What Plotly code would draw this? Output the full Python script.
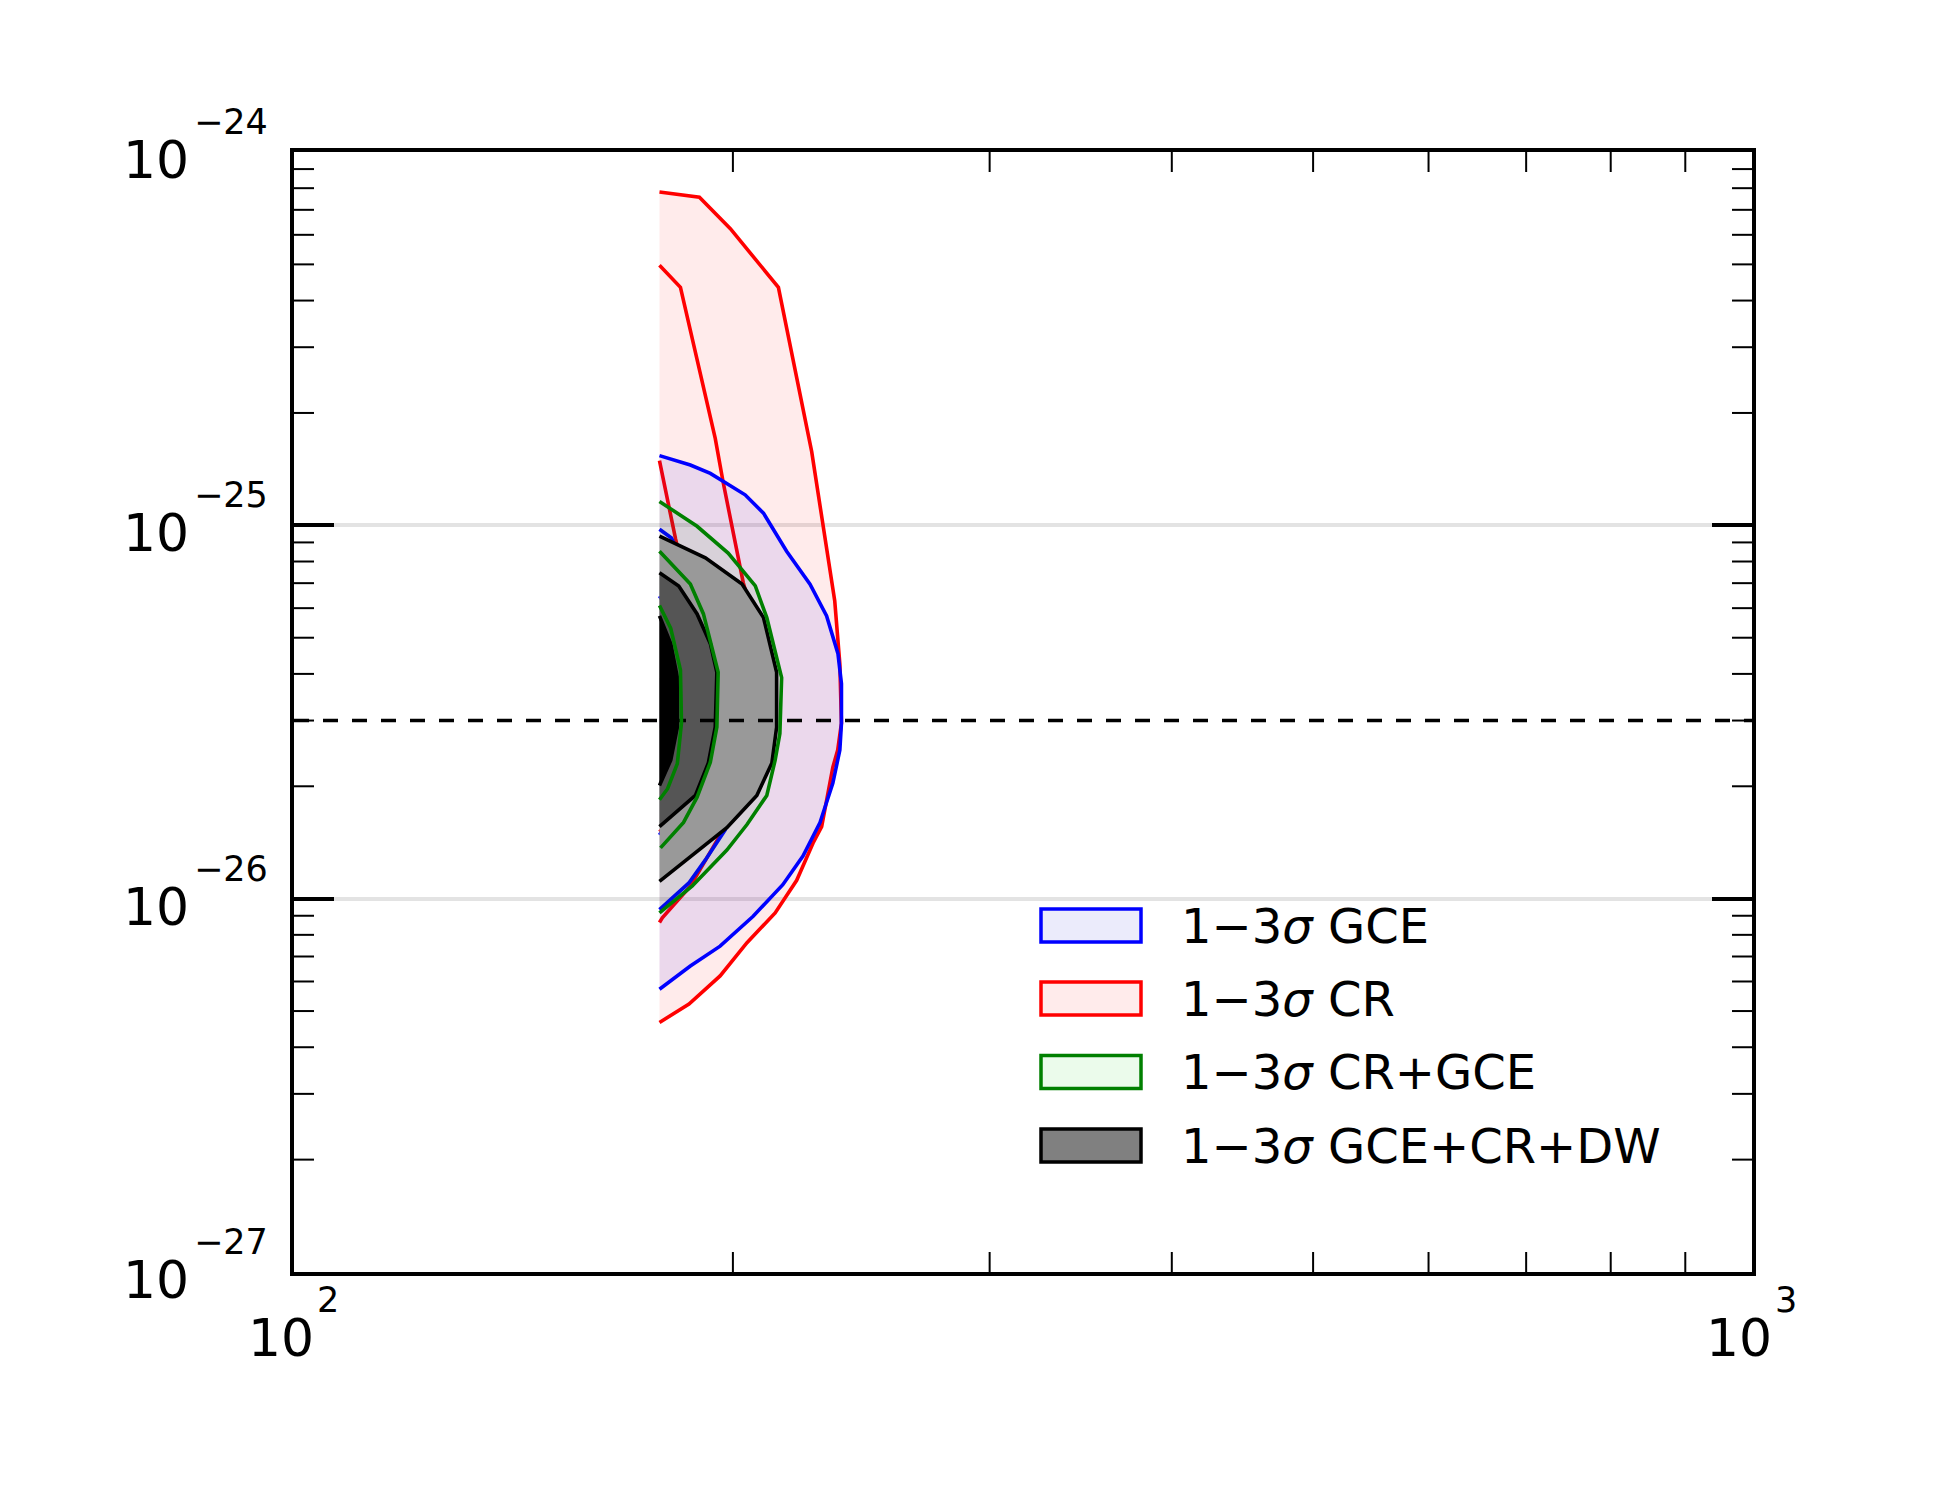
import plotly.graph_objects as go

# ---------------- data: dark-matter mass [GeV] and <sigma v> [cm^3/s] ----------------
# CR (red) contours
cr3_m = [178.1, 189.7, 199.2, 214.9, 225.3, 226.5, 234.9, 236.8, 237.4, 236.0, 234.2,
         230.1, 227.0, 221.2, 213.8, 204.5, 196.0, 186.6, 178.1]
cr3_sv = [7.81e-25, 7.57e-25, 6.23e-25, 4.34e-25, 1.745e-25, 1.575e-25, 6.27e-26, 4.25e-26,
          2.95e-26, 2.50e-26, 2.25e-26, 1.56e-26, 1.41e-26, 1.12e-26, 9.16e-27, 7.62e-27,
          6.21e-27, 5.22e-27, 4.66e-27]
cr2_m = [178.1, 184.1, 194.5, 196.9, 203.3, 208.8, 211.4, 206.2, 196.4, 187.0, 178.9, 178.1]
cr2_sv = [4.97e-25, 4.34e-25, 1.709e-25, 1.31e-25, 7.02e-26, 4.91e-26, 2.95e-26, 1.95e-26,
          1.50e-26, 1.08e-26, 8.88e-27, 8.63e-27]
cr1_m = [178.1, 182.7, 188.5, 191.5, 188.5, 178.1]
cr1_sv = [1.491e-25, 9.18e-26, 5.55e-26, 3.0e-26, 1.84e-26, 1.51e-26]

# GCE (blue) contours
gce3_m = [178.1, 187.0, 193.0, 203.9, 209.9, 217.7, 225.9, 231.9, 236.1, 237.4, 237.4, 236.8,
          234.2, 229.5, 223.4, 216.4, 206.5, 196.0, 187.0, 178.1]
gce3_sv = [1.537e-25, 1.451e-25, 1.378e-25, 1.207e-25, 1.078e-25, 8.52e-26, 6.96e-26, 5.72e-26,
           4.53e-26, 3.77e-26, 2.95e-26, 2.50e-26, 2.04e-26, 1.60e-26, 1.30e-26, 1.09e-26,
           8.97e-27, 7.46e-27, 6.60e-27, 5.72e-27]
gce2_m = [178.1, 181.5, 190.0, 196.4, 200.7, 197.6, 191.5, 186.5, 178.1]
gce2_sv = [9.76e-26, 9.25e-26, 6.27e-26, 3.39e-26, 1.95e-26, 1.53e-26, 1.27e-26, 1.10e-26, 9.35e-27]
gce1_m = [178.1, 186.0, 189.0, 186.0, 178.1]
gce1_sv = [6.47e-26, 5.0e-26, 3.0e-26, 1.9e-26, 1.48e-26]

# CR+GCE (green) contours
cg3_m = [178.1, 189.0, 198.5, 207.2, 211.0, 216.0, 215.4, 213.8, 211.0, 204.5, 198.1, 187.5, 178.1]
cg3_sv = [1.159e-25, 9.94e-26, 8.43e-26, 6.88e-26, 5.66e-26, 3.91e-26, 2.77e-26, 2.35e-26,
          1.89e-26, 1.58e-26, 1.35e-26, 1.08e-26, 9.16e-27]
cg2_m = [178.1, 187.0, 190.9, 195.4, 195.0, 193.0, 189.0, 185.0, 178.4]
cg2_sv = [8.52e-26, 6.96e-26, 5.79e-26, 4.04e-26, 2.88e-26, 2.32e-26, 1.87e-26, 1.60e-26, 1.368e-26]
cg1_m = [178.1, 181.3, 184.1, 184.4, 183.2, 180.4, 178.1]
cg1_sv = [6.1e-26, 5.3e-26, 4.1e-26, 2.96e-26, 2.3e-26, 1.97e-26, 1.84e-26]

# GCE+CR+DW (grey) contours
dw3_m = [178.1, 191.5, 202.9, 209.9, 214.3, 214.3, 212.7, 207.7, 198.1, 187.9, 178.1]
dw3_sv = [9.35e-26, 8.18e-26, 6.96e-26, 5.66e-26, 4.04e-26, 2.88e-26, 2.31e-26, 1.89e-26,
          1.55e-26, 1.31e-26, 1.112e-26]
dw2_m = [178.1, 183.6, 189.0, 193.0, 195.0, 194.5, 192.4, 188.5, 178.1]
dw2_sv = [7.46e-26, 6.88e-26, 5.79e-26, 4.82e-26, 4.04e-26, 2.88e-26, 2.31e-26, 1.89e-26, 1.56e-26]
dw1_m = [178.1, 181.3, 183.2, 183.2, 181.3, 178.1]
dw1_sv = [5.72e-26, 4.82e-26, 3.91e-26, 2.88e-26, 2.35e-26, 2.01e-26]

# thermal relic cross-section
thermal_m = [100, 1000]
thermal_sv = [3e-26, 3e-26]

# axis ticks
x_major = [100, 1000]
x_major_exp = ["2", "3"]
x_minor = [200, 300, 400, 500, 600, 700, 800, 900]
y_major = [1e-27, 1e-26, 1e-25, 1e-24]
y_major_exp = ["\u221227", "\u221226", "\u221225", "\u221224"]

legend_labels = ["1\u22123<i>\u03c3</i> GCE", "1\u22123<i>\u03c3</i> CR",
                 "1\u22123<i>\u03c3</i> CR+GCE", "1\u22123<i>\u03c3</i> GCE+CR+DW"]
legend_fill = ["#ebebfb", "#ffebeb", "#ebfbeb", "#808080"]
legend_line = ["#0000ff", "#ff0000", "#008000", "#000000"]

# ---------------- figure ----------------
W, H = 1950, 1500
L, R, T, B = 294, 1752, 152, 1272
PW, PH = R - L, B - T


def px2x(px):
    return (px - L) / PW


def py2y(py):
    return (B - py) / PH


fig = go.Figure()
LW = 3.6


def fill(xs, ys, color):
    fig.add_trace(go.Scatter(x=xs, y=ys, fill="toself", fillcolor=color, mode="lines",
                             line=dict(width=0, color="rgba(0,0,0,0)"), hoverinfo="skip"))


def line(xs, ys, color):
    fig.add_trace(go.Scatter(x=xs, y=ys, mode="lines", line=dict(width=LW, color=color),
                             hoverinfo="skip"))


# CR
fill(cr3_m, cr3_sv, "rgba(255,0,0,0.08)")
for xs, ys in [(cr3_m, cr3_sv), (cr2_m, cr2_sv), (cr1_m, cr1_sv)]:
    line(xs, ys, "#ff0000")
# GCE
fill(gce3_m, gce3_sv, "rgba(0,0,255,0.08)")
for xs, ys in [(gce3_m, gce3_sv), (gce2_m, gce2_sv), (gce1_m, gce1_sv)]:
    line(xs, ys, "#0000ff")
# CR+GCE fill
fill(cg3_m, cg3_sv, "rgba(0,128,0,0.08)")
# DW
fill(dw3_m, dw3_sv, "#999999")
fill(dw2_m, dw2_sv, "#555555")
fill(dw1_m, dw1_sv, "#000000")
for xs, ys in [(dw3_m, dw3_sv), (dw2_m, dw2_sv), (dw1_m, dw1_sv)]:
    line(xs, ys, "#000000")
# thermal line
fig.add_trace(go.Scatter(x=thermal_m, y=thermal_sv, mode="lines",
                         line=dict(width=3.5, color="black", dash="15px,14px"), hoverinfo="skip"))
# CR+GCE lines
for xs, ys in [(cg3_m, cg3_sv), (cg2_m, cg2_sv), (cg1_m, cg1_sv)]:
    line(xs, ys, "#008000")

shapes = []
# minor x ticks (bottom & top)
for v in x_minor:
    shapes.append(dict(type="line", xref="x", x0=v, x1=v, yref="paper", ysizemode="pixel",
                       yanchor=0, y0=0, y1=20, line=dict(color="black", width=2), layer="above"))
    shapes.append(dict(type="line", xref="x", x0=v, x1=v, yref="paper", ysizemode="pixel",
                       yanchor=1, y0=0, y1=-20, line=dict(color="black", width=2), layer="above"))
# minor y ticks (left & right)
for i in range(len(y_major) - 1):
    for k in range(2, 10):
        v = y_major[i] * k
        shapes.append(dict(type="line", yref="y", y0=v, y1=v, xref="paper", xsizemode="pixel",
                           xanchor=0, x0=0, x1=20, line=dict(color="black", width=2), layer="above"))
        shapes.append(dict(type="line", yref="y", y0=v, y1=v, xref="paper", xsizemode="pixel",
                           xanchor=1, x0=0, x1=-20, line=dict(color="black", width=2), layer="above"))

annotations = []
TICKFONT = "DejaVu Sans, Verdana, sans-serif"
# y tick labels
for i, v in enumerate(y_major):
    yp = i / 3.0
    annotations.append(dict(xref="paper", yref="paper", x=px2x(191), y=yp, xanchor="right",
                            yanchor="middle", yshift=-8, text="10", showarrow=False,
                            font=dict(family=TICKFONT, size=52, color="black")))
    annotations.append(dict(xref="paper", yref="paper", x=px2x(192), y=yp, xanchor="left",
                            yanchor="middle", yshift=30, text=y_major_exp[i], showarrow=False,
                            font=dict(family=TICKFONT, size=35, color="black")))
# x tick labels
for i, v in enumerate(x_major):
    xp = float(i)
    annotations.append(dict(xref="paper", yref="paper", x=xp, y=py2y(1338), xanchor="center",
                            yanchor="middle", xshift=-13, text="10", showarrow=False,
                            font=dict(family=TICKFONT, size=52, color="black")))
    annotations.append(dict(xref="paper", yref="paper", x=xp, y=py2y(1300), xanchor="left",
                            yanchor="middle", xshift=21, text=x_major_exp[i], showarrow=False,
                            font=dict(family=TICKFONT, size=35, color="black")))

# legend (drawn manually)
LEGFONT = "DejaVu Sans, Verdana, sans-serif"
row_centers = [925.5, 998.5, 1072, 1145.5]
for i, lab in enumerate(legend_labels):
    cy = row_centers[i]
    shapes.append(dict(type="rect", xref="paper", yref="paper", x0=px2x(1041), x1=px2x(1141),
                       y0=py2y(cy + 16.5), y1=py2y(cy - 16.5), fillcolor=legend_fill[i],
                       line=dict(color=legend_line[i], width=3.5), layer="above"))
    annotations.append(dict(xref="paper", yref="paper", x=px2x(1179), y=py2y(cy), xanchor="left",
                            yanchor="middle", text=lab, showarrow=False,
                            font=dict(family=LEGFONT, size=48, color="black")))

fig.update_layout(
    width=W, height=H,
    margin=dict(l=L, r=W - R, t=T, b=H - B, pad=0),
    plot_bgcolor="white", paper_bgcolor="white",
    showlegend=False,
    shapes=shapes, annotations=annotations,
    xaxis=dict(type="log", range=[2, 3], showline=True, linecolor="black", linewidth=3.8,
               mirror=True, showgrid=False, ticks="", showticklabels=False, zeroline=False),
    yaxis=dict(type="log", range=[-27, -24], showline=True, linecolor="black", linewidth=3.8,
               mirror="ticks", ticks="inside", ticklen=40, tickwidth=3.5, tickcolor="black",
               tickmode="array", tickvals=y_major, showticklabels=False, showgrid=True,
               gridcolor="#e3e3e3", gridwidth=3.5, zeroline=False),
)

fig.write_html("out.html")
